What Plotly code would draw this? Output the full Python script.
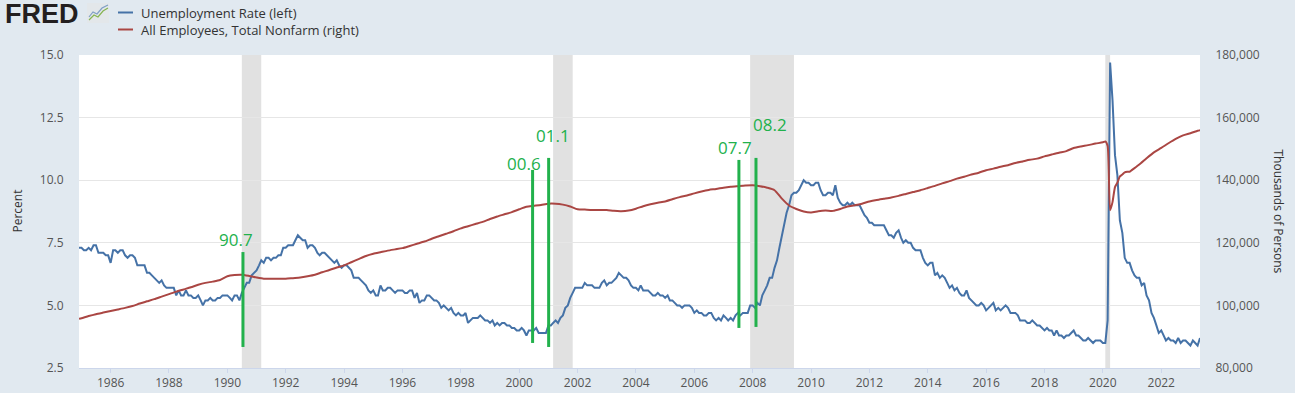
import pandas as pd
import plotly.graph_objects as go

# ---------------- data ----------------
# Unemployment rate (%), monthly, Dec 1984 - May 2023
unrate_1980s = [7.3,
    7.3, 7.2, 7.2, 7.3, 7.2, 7.4, 7.4, 7.1, 7.1, 7.1, 7.0, 7.0,
    6.7, 7.2, 7.2, 7.1, 7.2, 7.2, 7.0, 6.9, 7.0, 7.0, 6.9, 6.6,
    6.6, 6.6, 6.6, 6.3, 6.3, 6.2, 6.1, 6.0, 5.9, 6.0, 5.8, 5.7,
    5.7, 5.7, 5.7, 5.4, 5.6, 5.4, 5.4, 5.6, 5.4, 5.4, 5.3, 5.3,
    5.4, 5.2, 5.0, 5.2, 5.2, 5.3, 5.2, 5.2, 5.3, 5.3, 5.4, 5.4]
unrate_1990s = [
    5.4, 5.3, 5.2, 5.4, 5.4, 5.2, 5.5, 5.7, 5.9, 5.9, 6.2, 6.3,
    6.4, 6.6, 6.8, 6.7, 6.9, 6.9, 6.8, 6.9, 6.9, 7.0, 7.0, 7.3,
    7.3, 7.4, 7.4, 7.4, 7.6, 7.8, 7.7, 7.6, 7.6, 7.3, 7.4, 7.4,
    7.3, 7.1, 7.0, 7.1, 7.1, 7.0, 6.9, 6.8, 6.7, 6.8, 6.6, 6.5,
    6.6, 6.6, 6.5, 6.4, 6.1, 6.1, 6.1, 6.0, 5.9, 5.8, 5.6, 5.5,
    5.6, 5.4, 5.4, 5.8, 5.6, 5.6, 5.7, 5.7, 5.6, 5.5, 5.6, 5.6,
    5.6, 5.5, 5.5, 5.6, 5.6, 5.3, 5.5, 5.1, 5.2, 5.2, 5.4, 5.4,
    5.3, 5.2, 5.2, 5.1, 4.9, 5.0, 4.9, 4.8, 4.9, 4.7, 4.6, 4.7,
    4.6, 4.6, 4.7, 4.3, 4.4, 4.5, 4.5, 4.5, 4.6, 4.5, 4.4, 4.4,
    4.3, 4.4, 4.2, 4.3, 4.2, 4.3, 4.3, 4.2, 4.2, 4.1, 4.1, 4.0]
unrate_2000s = [
    4.0, 4.1, 4.0, 3.8, 4.0, 4.0, 4.0, 4.1, 3.9, 3.9, 3.9, 3.9,
    4.2, 4.2, 4.3, 4.4, 4.3, 4.5, 4.6, 4.9, 5.0, 5.3, 5.5, 5.7,
    5.7, 5.7, 5.7, 5.9, 5.8, 5.8, 5.8, 5.7, 5.7, 5.7, 5.9, 6.0,
    5.8, 5.9, 5.9, 6.0, 6.1, 6.3, 6.2, 6.1, 6.1, 6.0, 5.8, 5.7,
    5.7, 5.6, 5.8, 5.6, 5.6, 5.6, 5.5, 5.4, 5.4, 5.5, 5.4, 5.4,
    5.3, 5.4, 5.2, 5.2, 5.1, 5.0, 5.0, 4.9, 5.0, 5.0, 5.0, 4.9,
    4.7, 4.8, 4.7, 4.7, 4.6, 4.6, 4.7, 4.7, 4.5, 4.4, 4.5, 4.4,
    4.6, 4.5, 4.4, 4.5, 4.4, 4.6, 4.7, 4.6, 4.7, 4.7, 4.7, 5.0,
    5.0, 4.9, 5.1, 5.0, 5.4, 5.6, 5.8, 6.1, 6.1, 6.5, 6.8, 7.3,
    7.8, 8.3, 8.7, 9.0, 9.4, 9.5, 9.5, 9.6, 9.8, 10.0, 9.9, 9.9]
unrate_2010s = [
    9.8, 9.8, 9.9, 9.9, 9.6, 9.4, 9.4, 9.5, 9.5, 9.4, 9.8, 9.3,
    9.1, 9.0, 9.0, 9.1, 9.0, 9.1, 9.0, 9.0, 9.0, 8.8, 8.6, 8.5,
    8.3, 8.3, 8.2, 8.2, 8.2, 8.2, 8.2, 8.0, 7.8, 7.8, 7.7, 7.9,
    8.0, 7.7, 7.5, 7.6, 7.5, 7.5, 7.3, 7.2, 7.2, 7.2, 6.9, 6.7,
    6.6, 6.7, 6.7, 6.2, 6.3, 6.1, 6.2, 6.1, 5.9, 5.7, 5.8, 5.6,
    5.7, 5.5, 5.4, 5.4, 5.6, 5.3, 5.2, 5.1, 5.0, 5.0, 5.1, 5.0,
    4.8, 4.9, 5.0, 5.1, 4.8, 4.9, 4.8, 4.9, 5.0, 4.9, 4.7, 4.7,
    4.7, 4.6, 4.4, 4.4, 4.4, 4.3, 4.3, 4.4, 4.3, 4.2, 4.2, 4.1,
    4.0, 4.1, 4.0, 4.0, 3.8, 4.0, 3.8, 3.8, 3.7, 3.8, 3.8, 3.9,
    4.0, 3.8, 3.8, 3.7, 3.6, 3.6, 3.7, 3.6, 3.5, 3.6, 3.6, 3.6]
unrate_2020s = [
    3.5, 3.5, 4.4, 14.7, 13.2, 11.0, 10.2, 8.4, 7.9, 6.9, 6.7, 6.7,
    6.4, 6.2, 6.1, 6.1, 5.8, 5.9, 5.4, 5.2, 4.7, 4.5, 4.2, 3.9,
    4.0, 3.8, 3.6, 3.7, 3.6, 3.6, 3.5, 3.7, 3.5, 3.6, 3.6, 3.5,
    3.4, 3.6, 3.5, 3.4, 3.7]

# All employees, total nonfarm (thousands of persons)
payems_dec1984 = [95700]
payems_quarterly = [  # Jan, Apr, Jul, Oct of 1985 ... 2019
    95900, 96600, 97200, 97700,
    98200, 98700, 99200, 99800,
    100600, 101300, 102000, 102800,
    103600, 104400, 105100, 105800,
    106600, 107200, 107600, 108100,
    109300, 109700, 109800, 109400,
    108900, 108500, 108500, 108500,
    108500, 108700, 108900, 109300,
    109800, 110600, 111300, 112100,
    112800, 113800, 114800, 115800,
    116500, 117000, 117500, 117900,
    118300, 119000, 119700, 120400,
    121300, 122100, 122900, 123700,
    124600, 125300, 126000, 126700,
    127600, 128400, 129100, 129800,
    130700, 131500, 131800, 132100,
    132500, 132500, 132200, 131600,
    130700, 130600, 130500, 130500,
    130500, 130200, 130100, 130300,
    130900, 131700, 132300, 132800,
    133200, 133900, 134600, 135100,
    135800, 136400, 136900, 137200,
    137600, 137900, 138100, 138300,
    138400, 138100, 137600, 136800,
    134100, 131900, 130800, 130000,
    129700, 130100, 130300, 130200,
    130800, 131600, 132000, 132500,
    133200, 133700, 134100, 134500,
    135000, 135600, 136200, 136800,
    137500, 138200, 139000, 139700,
    140500, 141100, 141800, 142400,
    143200, 143700, 144300, 144800,
    145500, 146000, 146500, 146900,
    147600, 148200, 148800, 149300,
    150300, 150800, 151200, 151700]
payems_recent_dates = [
    "2020-01-01", "2020-02-01", "2020-03-01", "2020-04-01", "2020-05-01",
    "2020-06-01", "2020-07-01", "2020-08-01", "2020-09-01", "2020-10-01",
    "2020-11-01", "2020-12-01", "2021-01-01", "2021-04-01", "2021-07-01",
    "2021-10-01", "2022-01-01", "2022-04-01", "2022-07-01", "2022-10-01",
    "2023-01-01", "2023-04-01", "2023-05-01"]
payems_recent = [
    152100, 152400, 150900, 130400, 133000,
    137800, 139200, 141200, 141800, 142500,
    142700, 142700, 143300, 145000, 147000,
    148900, 150300, 151800, 153200, 154300,
    155000, 155800, 156000]

# Recessions (shaded)
recession_starts = ["1990-07-01", "2001-03-01", "2007-12-01", "2020-02-01"]
recession_ends = ["1991-03-01", "2001-11-01", "2009-06-01", "2020-04-01"]

# Hand-drawn green markers
mark_labels = ["90.7", "00.6", "01.1", "07.7", "08.2"]
mark_dates = ["1990-07-15", "2000-06-17", "2001-01-04", "2007-07-13", "2008-02-12"]
mark_top = [7.13, 10.41, 10.89, 10.81, 10.89]
mark_bottom = [3.34, 3.50, 3.34, 4.10, 4.14]
mark_label_y = [7.65, 10.68, 11.78, 11.29, 12.24]
mark_label_dx = [-7, -9, 4, -4, 14]

# ---------------- build ----------------
unrate = unrate_1980s + unrate_1990s + unrate_2000s + unrate_2010s + unrate_2020s
unrate_dates = pd.date_range("1984-12-01", periods=len(unrate), freq="MS")

q_dates = pd.date_range("1985-01-01", periods=len(payems_quarterly), freq="QS-JAN")
payems_dates = (["1984-12-01"] + list(q_dates.strftime("%Y-%m-%d")) + payems_recent_dates)
payems = payems_dec1984 + payems_quarterly + payems_recent

W, H = 1295, 393
L, R, T, B = 79, 95, 55, 25


def px(x):
    return (x - L) / (W - L - R)


def py(y):
    return (H - B - y) / (H - T - B)


BLUE = "#4572a7"
RED = "#aa4643"
GREEN = "#22b14c"
FONT = "Open Sans"

fig = go.Figure()
fig.add_trace(go.Scatter(x=unrate_dates, y=unrate, mode="lines",
                         line=dict(color=BLUE, width=2),
                         name="Unemployment Rate (left)", yaxis="y"))
fig.add_trace(go.Scatter(x=payems_dates, y=payems, mode="lines",
                         line=dict(color=RED, width=2, shape="spline", smoothing=0.6),
                         name="All Employees, Total Nonfarm (right)", yaxis="y2"))

shapes = []
for s, e in zip(recession_starts, recession_ends):
    shapes.append(dict(type="rect", xref="x", yref="paper", x0=s, x1=e, y0=0, y1=1,
                       fillcolor="#e1e1e1", line=dict(width=0), layer="below"))
for d, y0, y1 in zip(mark_dates, mark_bottom, mark_top):
    shapes.append(dict(type="line", xref="x", yref="y", x0=d, x1=d, y0=y0, y1=y1,
                       line=dict(color=GREEN, width=3), layer="above"))

# legend samples
shapes.append(dict(type="line", xref="paper", yref="paper", x0=px(118), x1=px(133),
                   y0=py(12.5), y1=py(12.5), line=dict(color=BLUE, width=2)))
shapes.append(dict(type="line", xref="paper", yref="paper", x0=px(118), x1=px(133),
                   y0=py(29.5), y1=py(29.5), line=dict(color=RED, width=2)))
# FRED icon
shapes.append(dict(type="rect", xref="paper", yref="paper", x0=px(87), x1=px(109),
                   y0=py(23), y1=py(3), fillcolor="#e3e7ea", line=dict(width=0)))


def poly(points):
    return "M " + " L ".join(f"{px(a)},{py(b)}" for a, b in points)


shapes.append(dict(type="path", xref="paper", yref="paper",
                   path=poly([(89, 20), (94, 15), (98, 17), (103, 11), (108, 8)]),
                   line=dict(color="#86b451", width=1.2)))
shapes.append(dict(type="path", xref="paper", yref="paper",
                   path=poly([(89, 17), (93, 12), (97, 14), (102, 8), (108, 5)]),
                   line=dict(color="#7f9fc4", width=1.2)))

annotations = []
for lab, d, ly, dx in zip(mark_labels, mark_dates, mark_label_y, mark_label_dx):
    annotations.append(dict(x=d, y=ly, xref="x", yref="y", text=lab, showarrow=False,
                            xshift=dx, xanchor="center", yanchor="middle",
                            font=dict(family=FONT, size=17, color=GREEN)))

annotations += [
    dict(x=px(3), y=py(13.5), xref="paper", yref="paper", text="<b>FRED</b>",
         showarrow=False, xanchor="left", yanchor="middle",
         font=dict(family="Liberation Sans", size=27, color="#231f20")),
    dict(x=px(139), y=py(12.5), xref="paper", yref="paper",
         text="Unemployment Rate (left)", showarrow=False, xanchor="left",
         yanchor="middle", font=dict(family=FONT, size=13, color="#333333")),
    dict(x=px(139), y=py(29.5), xref="paper", yref="paper",
         text="All Employees, Total Nonfarm (right)", showarrow=False, xanchor="left",
         yanchor="middle", font=dict(family=FONT, size=13, color="#333333")),
    dict(x=px(17), y=0.5, xref="paper", yref="paper", text="Percent",
         showarrow=False, textangle=-90, xanchor="center", yanchor="middle",
         font=dict(family=FONT, size=12, color="#333333")),
    dict(x=px(1278), y=0.5, xref="paper", yref="paper", text="Thousands of Persons",
         showarrow=False, textangle=90, xanchor="center", yanchor="middle",
         font=dict(family=FONT, size=12, color="#333333")),
]

fig.update_layout(
    width=W, height=H,
    margin=dict(l=L, r=R, t=T, b=B, autoexpand=False),
    paper_bgcolor="#e1e9f0", plot_bgcolor="#ffffff",
    showlegend=False,
    font=dict(family=FONT, size=12, color="#555555"),
    xaxis=dict(type="date", range=["1984-12-01", "2023-05-01"],
               tick0="1986-01-01", dtick="M24", tickformat="%Y",
               ticks="outside", ticklen=4, tickcolor="#ccd6eb",
               showline=True, linecolor="#ccd6eb", linewidth=1,
               showgrid=False, zeroline=False,
               tickfont=dict(family=FONT, size=12, color="#555555")),
    yaxis=dict(range=[2.5, 15], tick0=2.5, dtick=2.5, tickformat=".1f",
               showgrid=True, gridcolor="#e6e6e6", zeroline=False,
               ticks="outside", ticklen=12, tickcolor="rgba(0,0,0,0)",
               tickfont=dict(family=FONT, size=12, color="#555555")),
    yaxis2=dict(range=[80000, 180000], tick0=80000, dtick=20000, tickformat=",",
                overlaying="y", side="right", showgrid=False, zeroline=False,
                ticks="outside", ticklen=12, tickcolor="rgba(0,0,0,0)",
                tickfont=dict(family=FONT, size=12, color="#555555")),
    shapes=shapes,
    annotations=annotations,
)

fig.write_html("out.html", config={"displayModeBar": False},
               post_script="document.body.style.margin='0';"
                           "document.body.style.overflow='hidden';")
